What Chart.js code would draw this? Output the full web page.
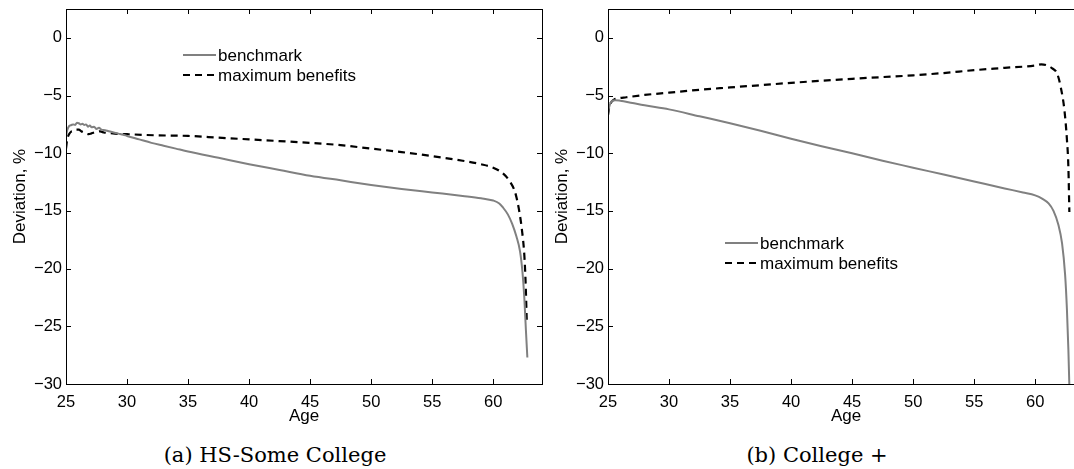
<!DOCTYPE html>
<html lang="en">
<head>
    <meta charset="UTF-8">
    <title>Deviation by age</title>
    <script src="https://cdn.jsdelivr.net/npm/chart.js"></script>
    <style>
        body { margin: 0; background: #fff; overflow: hidden; width: 1074px; height: 469px; position: relative; }
        .panel { position: absolute; top: 0; width: 560px; height: 430px; }
        .caption { position: absolute; width: 300px; text-align: center; font-family: 'DejaVu Serif', serif;
                   font-size: 21px; line-height: 21px; top: 445px; color: #000; white-space: nowrap; }
    </style>
</head>
<body>
    <div class="panel" style="left:0px"><canvas id="chartA" width="560" height="430"></canvas></div>
    <div class="panel" style="left:542px"><canvas id="chartB" width="560" height="430"></canvas></div>
    <div class="caption" style="left:125px">(a) HS-Some College</div>
    <div class="caption" style="left:667px">(b) College +</div>
    <script>
        // (a) HS-Some College
        const agesBenchA = [25, 25.1, 25.25, 25.45, 25.6, 25.75, 25.9, 26.05, 26.2, 26.35, 26.5, 26.65, 26.8, 26.95,
            27.1, 27.3, 27.5, 27.7, 27.9, 28.2, 28.5, 28.9, 29.3, 29.7, 30, 31, 32, 33, 34, 35, 37.5, 40, 42.5,
            45, 47.5, 50, 52.5, 55, 57.5, 59, 60, 60.5, 60.8, 61.2, 61.55, 61.9, 62.2, 62.4, 62.55, 62.68, 62.8]
        const benchA = [-8.6, -8.0, -7.65, -7.55, -7.5, -7.55, -7.35, -7.4, -7.5, -7.45, -7.55, -7.5, -7.7, -7.6,
            -7.75, -7.7, -7.9, -7.8, -7.95, -8.0, -8.1, -8.2, -8.3, -8.4, -8.5, -8.8, -9.1, -9.35, -9.6, -9.85, -10.4, -10.95, -11.45,
            -11.95, -12.35, -12.75, -13.1, -13.4, -13.7, -13.9, -14.1, -14.35, -14.7, -15.3, -16.1, -17.2, -18.5, -20.3, -22.5, -25.3, -27.7]
        const agesMaxA = [25, 25.1, 25.25, 25.45, 25.65, 25.85, 26.05, 26.25, 26.45, 26.65, 26.85, 27.05, 27.3, 27.55,
            27.8, 28.1, 28.5, 29, 30, 32.5, 35, 37.5, 40, 42.5, 45, 47.5, 50, 52.5, 55, 57.5, 59, 60, 60.8, 61.4,
            61.8, 62.1, 62.35, 62.55, 62.65, 62.75]
        const maxA = [-9.6, -8.8, -8.35, -8.1, -8.05, -7.95, -7.95, -8.1, -8.2, -8.3, -8.35, -8.3, -8.2, -8.15,
            -8.1, -8.2, -8.25, -8.3, -8.35, -8.45, -8.5, -8.65, -8.8, -8.95, -9.1, -9.3, -9.6, -9.9, -10.25, -10.65, -10.95, -11.25, -11.75, -12.5,
            -13.4, -14.8, -16.6, -18.8, -21, -24.5]

        // (b) College +
        const agesBenchB = [25, 25.15, 25.3, 25.6, 26, 27, 28, 30, 32.5, 35, 37.5, 40, 42.5, 45, 47.5, 50, 52.5, 55,
            57.5, 59, 60, 60.6, 61.1, 61.5, 61.9, 62.2, 62.45, 62.6, 62.72, 62.82]
        const benchB = [-6.4, -5.8, -5.5, -5.4, -5.45, -5.65, -5.85, -6.2, -6.8, -7.4, -8.05, -8.75, -9.4, -10.0, -10.65, -11.25, -11.85, -12.45,
            -13.05, -13.4, -13.65, -13.95, -14.35, -15.0, -16.2, -17.8, -20.5, -23.5, -27, -31]
        const agesMaxB = [25, 25.1, 25.25, 25.5, 25.8, 26.5, 28, 30, 32.5, 35, 37.5, 40, 42.5, 45, 47.5, 50, 52.5, 55,
            57.5, 60, 60.5, 61.0, 61.4, 61.8, 62.1, 62.4, 62.6, 62.72, 62.8]
        const maxB = [-6.7, -6.0, -5.6, -5.35, -5.25, -5.15, -4.95, -4.75, -4.5, -4.3, -4.1, -3.9, -3.72, -3.55, -3.4, -3.25, -3.05, -2.8,
            -2.6, -2.4, -2.3, -2.4, -2.65, -3.1, -4.3, -6.3, -8.8, -11.2, -15.1]

        const seriesNames = ['benchmark', 'maximum benefits']
        const xTicks = [25, 30, 35, 40, 45, 50, 55, 60]
        const yTicks = [-30, -25, -20, -15, -10, -5, 0]

        const sans = "'Liberation Sans', Arial, Helvetica, sans-serif"

        function puntos(ages, vals) {
            return ages.map((a, i) => ({x: a, y: vals[i]}))
        }

        function menos(v) {
            return v < 0 ? '\u2212' + Math.abs(v) : '' + v
        }

        // box with inward ticks on all sides, like the original plot
        const cajaPlugin = {
            id: 'caja',
            afterDraw(chart) {
                const ctx = chart.ctx
                const a = chart.chartArea
                const sx = chart.scales.x, sy = chart.scales.y
                const len = 5
                ctx.save()
                ctx.strokeStyle = '#000'
                ctx.lineWidth = 1
                ctx.strokeRect(a.left + 0.5, a.top + 0.5, a.right - a.left, a.bottom - a.top)
                ctx.beginPath()
                sx.ticks.forEach(t => {
                    const px = Math.round(sx.getPixelForValue(t.value)) + 0.5
                    ctx.moveTo(px, a.bottom); ctx.lineTo(px, a.bottom - len)
                    ctx.moveTo(px, a.top); ctx.lineTo(px, a.top + len)
                })
                sy.ticks.forEach(t => {
                    const py = Math.round(sy.getPixelForValue(t.value)) + 0.5
                    ctx.moveTo(a.left, py); ctx.lineTo(a.left + len, py)
                    ctx.moveTo(a.right, py); ctx.lineTo(a.right - len, py)
                })
                ctx.stroke()
                ctx.restore()
            }
        }

        // legend drawn inside the plot area
        const leyendaPlugin = {
            id: 'leyenda',
            afterDraw(chart, args, opts) {
                const ctx = chart.ctx
                const a = chart.chartArea
                let y = a.top + opts.dy
                const x0 = a.left + opts.dx
                ctx.save()
                chart.data.datasets.forEach(ds => {
                    ctx.beginPath()
                    ctx.strokeStyle = ds.borderColor
                    ctx.lineWidth = ds.borderWidth
                    ctx.setLineDash(ds.borderDash || [])
                    ctx.moveTo(x0, y); ctx.lineTo(x0 + opts.largo, y)
                    ctx.stroke()
                    ctx.setLineDash([])
                    ctx.fillStyle = '#000'
                    ctx.font = opts.fuente
                    ctx.textBaseline = 'middle'
                    ctx.fillText(ds.label, x0 + opts.largo + 2, y + 1)
                    y += opts.fila
                })
                ctx.restore()
            }
        }

        function crearGrafica(id, ab, vb, am, vm, dx, dy) {
            const context = document.getElementById(id).getContext('2d')
            const config = {
                type: 'line',
                data: {
                    datasets: [{
                        label: seriesNames[0],
                        data: puntos(ab, vb),
                        borderColor: 'rgb(128,128,128)',
                        borderWidth: 2,
                        pointRadius: 0,
                        cubicInterpolationMode: 'monotone'
                    }, {
                        label: seriesNames[1],
                        data: puntos(am, vm),
                        borderColor: '#000',
                        borderWidth: 2.2,
                        borderDash: [7, 5],
                        pointRadius: 0,
                        cubicInterpolationMode: 'monotone'
                    }]
                },
                options: {
                    responsive: false,
                    animation: false,
                    devicePixelRatio: 1,
                    layout: { padding: { top: 9, right: 18, bottom: 0, left: 0 } },
                    plugins: {
                        legend: { display: false },
                        tooltip: { enabled: false },
                        leyenda: { dx: dx, dy: dy, largo: 33, fila: 20, fuente: '17px ' + sans }
                    },
                    scales: {
                        x: {
                            type: 'linear', min: 25, max: 64,
                            grid: { display: false, drawTicks: false },
                            border: { display: false },
                            ticks: { stepSize: 5, padding: 9, color: '#000', font: { family: sans, size: 16.5 }, maxRotation: 0 },
                            title: { display: true, text: 'Age', color: '#000', font: { family: sans, size: 17 }, padding: { top: 0, bottom: 3 } },
                            afterBuildTicks: s => { s.ticks = xTicks.map(v => ({value: v})) },
                            afterFit: s => { s.height = 46; s.paddingLeft = 0; s.paddingRight = 0 }
                        },
                        y: {
                            type: 'linear', min: -30, max: 2.5,
                            grid: { display: false, drawTicks: false },
                            border: { display: false },
                            ticks: { stepSize: 5, padding: 4, color: '#000', font: { family: sans, size: 16.5 }, callback: v => menos(v) },
                            title: { display: true, text: 'Deviation, %', color: '#000', font: { family: sans, size: 17 }, padding: { top: 10, bottom: 0 } },
                            afterBuildTicks: s => { s.ticks = yTicks.map(v => ({value: v})) },
                            afterFit: s => { s.width = 66; s.paddingTop = 0; s.paddingBottom = 0 }
                        }
                    }
                },
                plugins: [cajaPlugin, leyendaPlugin]
            }
            return new Chart(context, config)
        }

        crearGrafica('chartA', agesBenchA, benchA, agesMaxA, maxA, 117, 46)
        crearGrafica('chartB', agesBenchB, benchB, agesMaxB, maxB, 117, 234)
    </script>
</body>
</html>
